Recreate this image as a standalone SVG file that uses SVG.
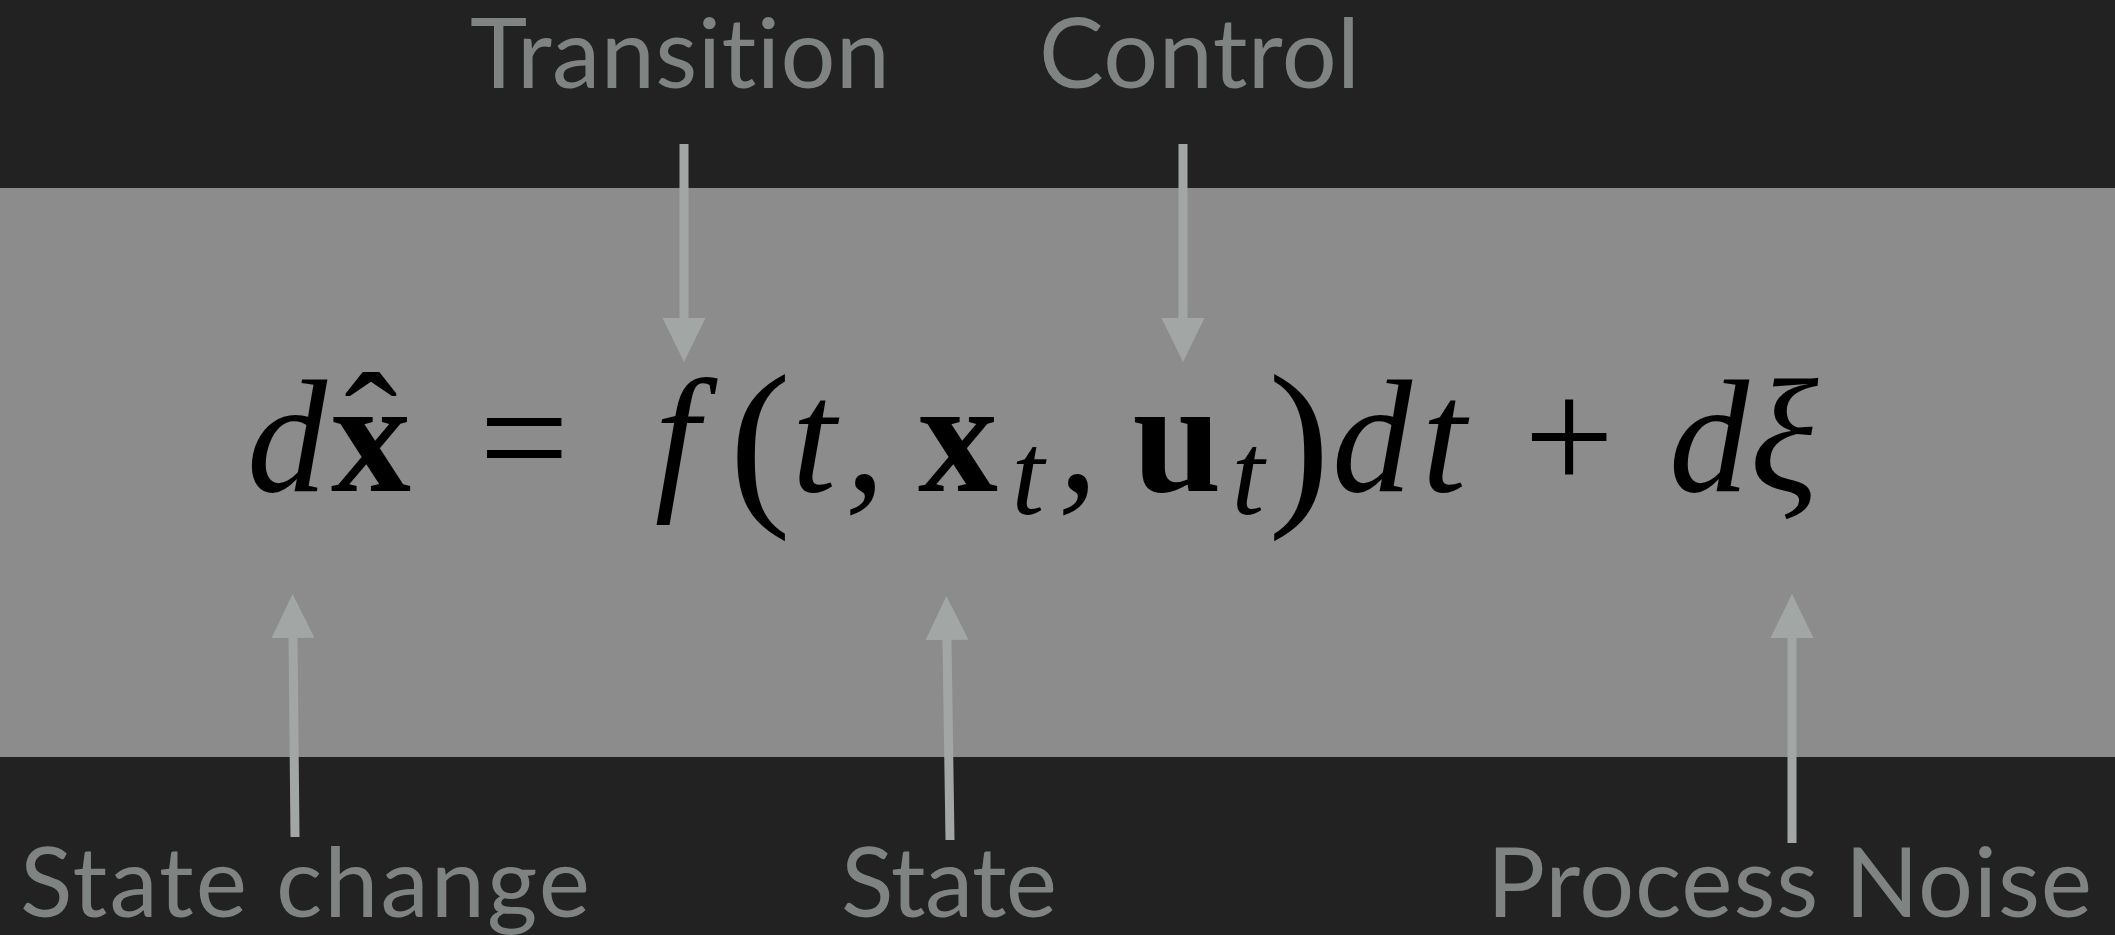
<svg xmlns="http://www.w3.org/2000/svg" width="2115" height="935" viewBox="0 0 2115 935">
<style>
.lbl{font-family:Lato,"Noto Sans",sans-serif;font-size:97px;fill:#7f8483;font-variant-ligatures:none}
.mi{font-family:"Liberation Serif",serif;font-style:italic;font-size:160px;fill:#000}
.mb{font-family:"Liberation Serif",serif;font-weight:bold;font-size:160px;fill:#000}
.mr{font-family:"Liberation Serif",serif;font-size:160px;fill:#000}
.sub{font-family:"Liberation Serif",serif;font-style:italic;font-size:118px;fill:#000}
.par{font-family:"Liberation Serif",serif;font-size:185px;fill:#000}
.conn line{stroke:#a2a7a5;stroke-width:9;fill:none;marker-end:url(#ah)}
</style>
<defs>
<marker id="ah" markerUnits="userSpaceOnUse" viewBox="0 -22 44 44" refX="0" refY="0" markerWidth="44" markerHeight="44" orient="auto">
<path d="M0,-21.5 L44,0 L0,21.5 Z" fill="#a2a7a5"/>
</marker>
</defs>
<rect x="0" y="0" width="2115" height="935" fill="#222222"/>
<rect x="0" y="188" width="2115" height="569" fill="#8c8c8c"/>
<g id="equation" text-anchor="middle">
<text class="mi" x="287" y="491">d</text>
<text class="mb" x="371" y="491">x</text>
<text class="mr" x="371" y="484" font-size="100">ˆ</text>
<text class="mr" x="524" y="491">=</text>
<text class="mi" x="677" y="491">f</text>
<text class="par" x="760" y="502">(</text>
<text class="mi" x="814" y="491">t</text>
<text class="mi" x="865" y="491">,</text>
<text class="mb" x="958" y="491">x</text>
<text class="sub" x="1028" y="514">t</text>
<text class="mi" x="1078" y="491">,</text>
<text class="mb" x="1177" y="491">u</text>
<text class="sub" x="1248" y="514">t</text>
<text class="par" x="1299" y="502">)</text>
<text class="mi" x="1372" y="491">d</text>
<text class="mi" x="1444" y="491">t</text>
<text class="mr" x="1569" y="491">+</text>
<text class="mi" x="1709" y="491">d</text>
<text class="mi" x="1784" y="491">ξ</text>
</g>
<g id="transition"><text class="lbl" x="470" y="88" textLength="420" lengthAdjust="spacing">Transition</text></g>
<g id="control"><text class="lbl" x="1039" y="88" textLength="321" lengthAdjust="spacing">Control</text></g>
<g id="state-change"><text class="lbl" x="20" y="917" textLength="570" lengthAdjust="spacing">State change</text></g>
<g id="state"><text class="lbl" x="841" y="917" textLength="216" lengthAdjust="spacing">State</text></g>
<g id="process-noise"><text class="lbl" x="1487" y="917" textLength="605" lengthAdjust="spacing">Process Noise</text></g>
<g class="conn" id="connectors">
<line x1="684" y1="144" x2="684" y2="318"/>
<line x1="1183" y1="144" x2="1183" y2="318"/>
<line x1="295" y1="837" x2="293" y2="638"/>
<line x1="950" y1="840" x2="947" y2="640"/>
<line x1="1792" y1="843" x2="1792" y2="638"/>
</g>
</svg>
